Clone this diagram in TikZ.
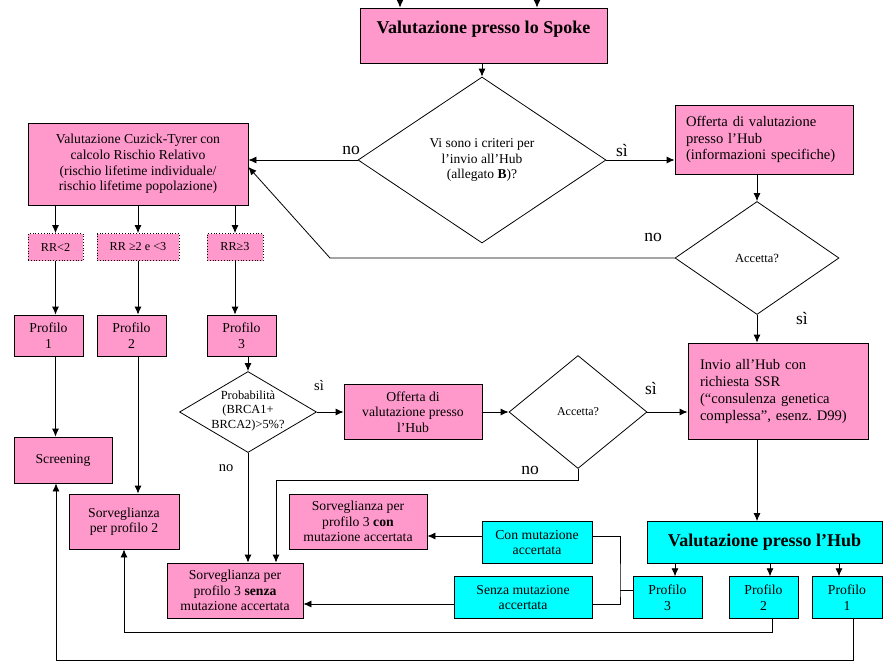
\documentclass[tikz,border=0pt]{standalone}
\usepackage{fontspec}
\setmainfont{Liberation Serif}
\usetikzlibrary{shapes.geometric,arrows.meta}
\definecolor{rosa}{HTML}{FF99CC}
\definecolor{ciano}{HTML}{00FFFF}
\newcommand{\fsz}[2]{\fontsize{#1}{#2}\selectfont}

\begin{document}
\begin{tikzpicture}[
    x=1pt, y=-1pt, line width=0.8pt,
    ->, >={Latex[length=8pt,width=7pt]},
    every node/.style={inner sep=1pt, align=center},
    pinkbox/.style={draw, fill=rosa, inner sep=0pt, font=\fsz{13.7}{15.6}},
    cyanbox/.style={draw, fill=ciano, inner sep=0pt, font=\fsz{13.7}{15.6}},
    dotbox/.style={draw, dotted, fill=rosa, inner sep=0pt, font=\fsz{12.2}{14}},
    decision/.style={draw, diamond, inner sep=0pt},
    lbl/.style={font=\fsz{17.5}{20}},
    lblsmall/.style={font=\fsz{14.5}{17}}
]
\useasboundingbox (0,0) rectangle (894,664);

% Spoke
\node[pinkbox, minimum width=247pt, minimum height=55pt, text height=25pt,
      text depth=30pt, font=\bfseries\fsz{18}{21}] (spoke) at (483.5,35.5)
      {Valutazione presso lo Spoke};
\coordinate (in1) at (400,0);
\coordinate (in2) at (537,0);

\node[decision, minimum width=248pt, minimum height=166pt, font=\fsz{13.5}{15.8}]
      (d1) at (482,160) {Vi sono i criteri per\\l’invio all’Hub\\(allegato \textbf{B})?};

% left branch: Cuzick-Tyrer
\node[pinkbox, minimum width=220pt, minimum height=82pt] (cuz) at (138,164)
      {Valutazione Cuzick-Tyrer con\\calcolo Rischio Relativo\\(rischio lifetime individuale/\\rischio lifetime popolazione)};

\node[dotbox, minimum width=55pt, minimum height=27pt] (rr1) at (55.5,247) {RR<2};
\node[dotbox, minimum width=82pt, minimum height=27pt] (rr2) at (138,247) {RR ≥2 e <3};
\node[dotbox, minimum width=56pt, minimum height=27pt] (rr3) at (235,247) {RR≥3};

\node[pinkbox, minimum width=69pt, minimum height=41pt] (p1) at (48.5,335.5) {Profilo\\1};
\node[pinkbox, minimum width=69pt, minimum height=41pt] (p2) at (131.5,335.5) {Profilo\\2};
\node[pinkbox, minimum width=69pt, minimum height=41pt] (p3) at (241.5,335.5) {Profilo\\3};

\node[pinkbox, minimum width=98pt, minimum height=46pt] (scr) at (63,460) {Screening};
\node[pinkbox, minimum width=110pt, minimum height=55pt] (s2) at (124,521.5)
      {Sorveglianza\\per profilo 2};

% profilo 3 path
\node[decision, minimum width=137pt, minimum height=81pt] (d3) at (248,412) {};
\node[font=\fsz{12.4}{14.7}] (d3txt) at (248,411) {Probabilità\\(BRCA1+\\BRCA2)>5\%?};
\node[pinkbox, minimum width=138pt, minimum height=55pt] (off2) at (413,412)
      {Offerta di\\valutazione presso\\l’Hub};
\node[decision, minimum width=138pt, minimum height=113pt, font=\fsz{12}{14}]
      (d4) at (578,412) {Accetta?};
\coordinate (nobend2) at (276,480);

\node[pinkbox, minimum width=138pt, minimum height=55pt] (sc) at (358,521.5)
      {Sorveglianza per\\profilo 3 \textbf{con}\\mutazione accertata};
\node[pinkbox, minimum width=136pt, minimum height=55pt] (ss) at (235,590.5)
      {Sorveglianza per\\profilo 3 \textbf{senza}\\mutazione accertata};

% right branch: Hub
\node[pinkbox, minimum width=178pt, minimum height=69pt, text width=156pt,
      align=left, font=\fsz{14.6}{16.7}] (off1) at (764,139.5)
      {Offerta di valutazione\\presso l’Hub\\(informazioni specifiche)};
\node[decision, minimum width=164pt, minimum height=113pt, font=\fsz{12.5}{14}]
      (d2) at (757,258) {Accetta?};
\coordinate (nobend1) at (330,258);

\node[pinkbox, minimum width=180pt, minimum height=96pt, text width=156pt,
      align=left, font=\fsz{14.6}{17}] (inv) at (778,391)
      {Invio all’Hub con\\richiesta SSR\\(“consulenza genetica\\complessa”, esenz.\ D99)};

\node[cyanbox, minimum width=235pt, minimum height=42pt, font=\bfseries\fsz{18}{21}]
      (hub) at (764.5,542.5) {Valutazione presso l’Hub};
\node[cyanbox, minimum width=69pt, minimum height=41.6pt] (hp3) at (667.5,597.5) {Profilo\\3};
\node[cyanbox, minimum width=69pt, minimum height=41.6pt] (hp2) at (763.5,597.5) {Profilo\\2};
\node[cyanbox, minimum width=70pt, minimum height=41.6pt] (hp1) at (847,597.5) {Profilo\\1};

\node[cyanbox, minimum width=110pt, minimum height=41.6pt] (cm) at (537,542.5)
      {Con mutazione\\accertata};
\node[cyanbox, minimum width=138pt, minimum height=41.6pt] (sm) at (523,597.5)
      {Senza mutazione\\accertata};
\coordinate (jn) at (620,590);

% labels
\node[lbl] (no1) at (351,150) {no};
\node[lbl] (si1) at (622,150) {sì};
\node[lbl] (no2) at (653,237) {no};
\node[lbl] (si2) at (802,318) {sì};
\node[lblsmall] (si3) at (319,386) {sì};
\node[lblsmall] (no3) at (226,468) {no};
\node[lbl] (si4) at (651,388) {sì};
\node[lbl] (no4) at (530,470) {no};

% connectors
\draw (in1) -- (in1 |- spoke.north);
\draw (in2) -- (in2 |- spoke.north);
\draw (spoke.south -| d1.north) -- (d1.north);
\draw (d1.west) -- (cuz.east |- d1.west);
\draw (d1.east) -- (off1.west |- d1.east);
\draw (off1.south -| d2.north) -- (d2.north);
\draw (d2.west) -- (nobend1) -- (cuz.east |- 0,167);
\draw (d2.south) -- (d2.south |- inv.north);
\draw (inv.south -| d2.south) -- (hub.north -| d2.south);

\draw (cuz.south -| rr1.north) -- (rr1.north);
\draw (cuz.south -| rr2.north) -- (rr2.north);
\draw (cuz.south -| rr3.north) -- (rr3.north);
\draw (rr1.south) -- (rr1.south |- p1.north);
\draw (rr2.south) -- (rr2.south |- p2.north);
\draw (rr3.south) -- (rr3.south |- p3.north);
\draw (p1.south -| rr1.south) -- (scr.north -| rr1.south);
\draw (p2.south -| rr2.south) -- (s2.north -| rr2.south);
\draw (p3.south -| d3.north) -- (d3.north);

\draw (d3.east) -- (off2.west);
\draw (d3.south) -- (d3.south |- ss.north);
\draw (off2.east) -- (d4.west);
\draw (d4.east) -- (inv.west |- d4.east);
\draw (d4.south) |- (nobend2) -- (nobend2 |- ss.north);

\draw (hub.south -| 675,0) -- (hp3.north -| 675,0);
\draw (hub.south -| 770,0) -- (hp2.north -| 770,0);
\draw (hub.south -| 839,0) -- (hp1.north -| 839,0);

\draw[-] (hp3.west |- jn) -- (jn);
\draw[-] (cm.east |- 0,536) -| (jn) |- (sm.east |- 0,604);
\draw (cm.west |- 0,536) -- (sc.east |- 0,536);
\draw (sm.west |- 0,604) -- (ss.east |- 0,604);

\draw (hp2.south -| 772,0) -- ++(0,14) -| (s2.south);
\draw (hp1.south -| 853,0) -- ++(0,42) -| (scr.south -| 56,0);

\end{tikzpicture}
\end{document}
